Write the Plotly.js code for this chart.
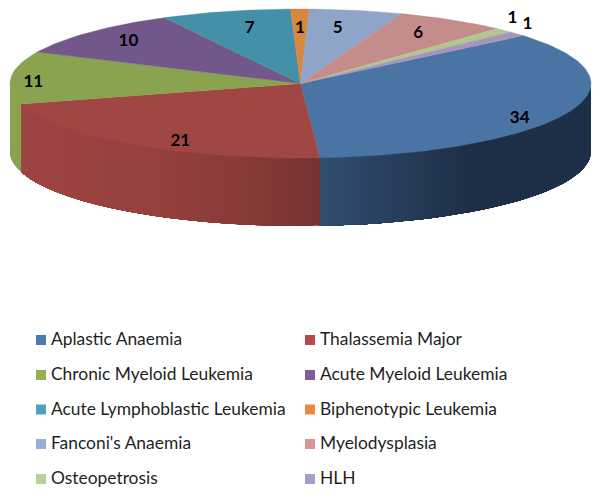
<!DOCTYPE html>
<html>
<head>
<meta charset="utf-8">
<script src="https://cdn.plot.ly/plotly-3.0.1.min.js"></script>
<style>html,body{margin:0;padding:0;background:#fff}#chart{width:600px;height:495px}</style>
</head>
<body>
<div id="chart"></div>
<script>
// Data
const categories = ["Aplastic Anaemia","Thalassemia Major","Chronic Myeloid Leukemia","Acute Myeloid Leukemia","Acute Lymphoblastic Leukemia","Biphenotypic Leukemia","Fanconi's Anaemia","Myelodysplasia","Osteopetrosis","HLH"];
const values = [34,21,11,10,7,1,5,6,1,1];

// Styles
const topColors = ["#4a74a3","#a04644","#8aa34f","#72588a","#4490a8","#d8873e","#8ea4c8","#c48d8b","#b1c78f","#a596bd"];
const legendColors = ["#4a7ab3","#b54a48","#94b050","#7a5c9f","#4ba3bf","#e68a3c","#95afd9","#d99694","#bad09a","#ac9cc8"];
const sideStops = {
  0: [[320,[48,78,112]],[400,[39,61,90]],[470,[30,46,70]],[591,[30,48,73]]],
  1: [[10,[157,69,67]],[150,[150,65,63]],[250,[135,58,56]],[320,[120,50,50]]],
  2: [[10,[138,163,80]],[25,[138,163,80]]]
};

// Geometry of the tilted disc (pixel space of the axes)
const cx = 300.5, cy = 83.5, rx = 290.5, ry = 74.5, depth = 68, startAngle = 50;
const labelFrac = 0.85;
const labelDx = [-8,22,-21,7,13,0,-10,-11,39,43];
const labelDy = [10,6,4,2,6,9,7,4,-20,-17];
const legendX = [36,305];
const legendTextGap = 15;
const legendY = [341,376,410.5,445,480];

const fontFace = "Lato, Carlito, Calibri, sans-serif";
const rad = d => d*Math.PI/180;
const px = t => cx + rx*Math.sin(rad(t));
const py = t => cy - ry*Math.cos(rad(t));

const total = values.reduce((a,b)=>a+b,0);
const spans = [];
let acc = startAngle;
values.forEach(v => { const a = acc, b = acc + v/total*360; spans.push([a,b]); acc = b; });

function shade(stops, x){
  if (x <= stops[0][0]) return stops[0][1];
  for (let i=1;i<stops.length;i++){
    if (x <= stops[i][0]){
      const f = (x-stops[i-1][0])/(stops[i][0]-stops[i-1][0]);
      return stops[i-1][1].map((c,k)=>Math.round(c+(stops[i][1][k]-c)*f));
    }
  }
  return stops[stops.length-1][1];
}

const traces = [];
// Side wall: overlapping narrow strips, painted so each one covers the seam of the last
spans.forEach((s,i) => {
  const a = Math.max(s[0],90), b = Math.min(s[1],270);
  if (b <= a || !sideStops[i]) return;
  const n = Math.ceil((b-a)/1.2);
  for (let k=0;k<n;k++){
    const t0 = a+(b-a)*k/n, t1 = a+(b-a)*(k+1)/n, tEnd = b;
    const col = shade(sideStops[i],(px(t0)+px(t1))/2);
    const c = `rgb(${col[0]},${col[1]},${col[2]})`;
    const arc = [];
    const m = Math.max(1,Math.ceil((tEnd-t0)/3));
    for (let j=0;j<=m;j++) arc.push(t0+(tEnd-t0)*j/m);
    traces.push({type:"scatter",mode:"lines",fill:"toself",fillcolor:c,
      line:{width:0},hoverinfo:"skip",showlegend:false,
      x:arc.map(px).concat(arc.slice().reverse().map(px)),
      y:arc.map(py).concat(arc.slice().reverse().map(t=>py(t)+depth))});
  }
});
// Top face
spans.forEach((s,i) => {
  const xs=[cx], ys=[cy];
  const n = Math.max(4,Math.ceil((s[1]-s[0])/1));
  for (let k=0;k<=n;k++){ const t=s[0]+(s[1]-s[0])*k/n; xs.push(px(t)); ys.push(py(t)); }
  xs.push(cx); ys.push(cy);
  traces.push({type:"scatter",mode:"lines",fill:"toself",fillcolor:topColors[i],
    line:{color:topColors[i],width:0.4},name:categories[i],
    text:categories[i]+": "+values[i],hoverinfo:"text",showlegend:false,x:xs,y:ys});
});
// Value labels
traces.push({type:"scatter",mode:"text",showlegend:false,hoverinfo:"skip",
  x:spans.map((s,i)=>cx+rx*labelFrac*Math.sin(rad((s[0]+s[1])/2))+labelDx[i]),
  y:spans.map((s,i)=>cy-ry*labelFrac*Math.cos(rad((s[0]+s[1])/2))+labelDy[i]),
  text:values.map(String),textposition:"middle center",
  textfont:{family:fontFace,size:17,color:"#000",weight:700}});
// Legend in two columns
const colOf = i => i%2, rowOf = i => Math.floor(i/2);
traces.push({type:"scatter",mode:"markers",showlegend:false,hoverinfo:"skip",
  x:categories.map((c,i)=>legendX[colOf(i)]+5),
  y:categories.map((c,i)=>legendY[rowOf(i)]-1),
  marker:{symbol:"square",size:10,color:legendColors,line:{width:0}}});
traces.push({type:"scatter",mode:"text",showlegend:false,hoverinfo:"skip",
  x:categories.map((c,i)=>legendX[colOf(i)]+legendTextGap),
  y:categories.map((c,i)=>legendY[rowOf(i)]),
  text:categories,textposition:"middle right",
  textfont:{family:fontFace,size:17.4,color:"#1f1f1f"}});

const layout = {
  width:600,height:495,margin:{l:0,r:0,t:0,b:0},
  paper_bgcolor:"#fff",plot_bgcolor:"#fff",showlegend:false,
  xaxis:{range:[0,600],visible:false,fixedrange:true},
  yaxis:{range:[495,0],visible:false,fixedrange:true}
};
Plotly.newPlot("chart",traces,layout,{displayModeBar:false});
</script>
</body>
</html>
